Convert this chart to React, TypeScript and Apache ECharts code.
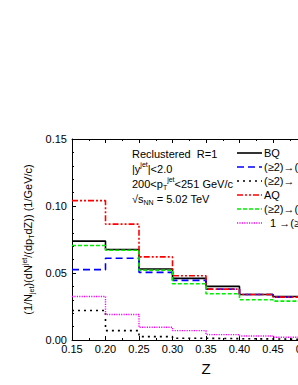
import React, { useEffect, useRef } from "react";
import * as echarts from "echarts";

const edges = [0.15, 0.2, 0.25, 0.3, 0.35, 0.4, 0.45, 0.5];
const bq = [0.0738, 0.0675, 0.053, 0.046, 0.04, 0.034, 0.0325];
const n22bq = [0.0525, 0.061, 0.0505, 0.0445, 0.038, 0.034, 0.032];
const n21 = [0.022, 0.007, 0.0025, 0.0013, 0.001, 0.0008, 0.0005];
const aq = [0.104, 0.0865, 0.062, 0.048, 0.038, 0.034, 0.032];
const n22aq = [0.0705, 0.067, 0.052, 0.042, 0.0345, 0.03, 0.029];
const n12 = [0.0325, 0.019, 0.0095, 0.007, 0.004, 0.003, 0.002];
const yTicks = [0, 0.05, 0.1, 0.15];
const legendNames = ["BQ", "(≥2)→(≥2)", "(≥2)→ 1", "AQ", "(≥2)→(≥2)", "  1 →(≥2)"];

const FONT = "Liberation Sans";

function stepData(vals: number[]) {
  const d = vals.map((v, i) => [edges[i], v]);
  d.push([edges[edges.length - 1], vals[vals.length - 1]]);
  return d;
}

export default function App() {
  const ref = useRef<HTMLDivElement>(null);
  useEffect(() => {
    if (!ref.current) return;
    const chart = echarts.init(ref.current, undefined, { renderer: "svg" });
    const styles: [string, any, number][] = [
      ["#000000", "solid", 1.6],
      ["#0000ff", [7, 4], 1.6],
      ["#000000", [2, 4], 1.6],
      ["#ff0000", [6, 2, 2, 2, 2, 2], 1.6],
      ["#00ee00", [4, 2], 1.6],
      ["#ff00ff", [1.2, 1.2], 1.4],
    ];
    const seriesVals = [bq, n22bq, n21, aq, n22aq, n12];
    const series = seriesVals.map((vals, i) => ({
      name: legendNames[i] + "#" + i,
      type: "line",
      step: "end",
      symbol: "none",
      data: stepData(vals),
      lineStyle: { color: styles[i][0], type: styles[i][1], width: styles[i][2] },
      itemStyle: { color: styles[i][0] },
      z: 3,
    }));
    const legendGraphics: any[] = [];
    legendNames.forEach((nm, i) => {
      const y = 153 + i * 14;
      const [color, type, width] = styles[i];
      legendGraphics.push({
        type: "line",
        shape: { x1: 237, y1: y, x2: 262, y2: y },
        style: { stroke: color, lineWidth: width, lineDash: type === "solid" ? null : type },
        z: 10,
      });
      legendGraphics.push({
        type: "text",
        x: 264,
        y,
        style: {
          text: nm,
          fontFamily: FONT,
          fontSize: 11,
          fill: "#000",
          verticalAlign: "middle",
          align: "left",
        },
        z: 10,
      });
    });
    const axisCommon = {
      axisLine: { show: true, onZero: false, lineStyle: { color: "#000", width: 1 } },
      splitLine: { show: false },
    };
    chart.setOption({
      animation: false,
      textStyle: { fontFamily: FONT },
      grid: { left: 72, right: 20, top: 139, bottom: 45 },
      xAxis: [
        {
          type: "value",
          min: 0.15,
          max: 0.55,
          interval: 0.05,
          name: "Z",
          nameLocation: "middle",
          nameGap: 21,
          nameTextStyle: { fontFamily: FONT, fontSize: 15, color: "#000" },
          ...axisCommon,
          axisTick: { inside: true, length: 4, lineStyle: { color: "#000" } },
          minorTick: { show: true, splitNumber: 2, length: 2, lineStyle: { color: "#000" } },
          axisLabel: {
            margin: 3,
            fontSize: 11,
            color: "#000",
            fontFamily: FONT,
            formatter: (v: number) => v.toFixed(2),
          },
        },
        {
          type: "value",
          position: "top",
          min: 0.15,
          max: 0.55,
          interval: 0.05,
          ...axisCommon,
          axisTick: { inside: true, length: 4, lineStyle: { color: "#000" } },
          minorTick: { show: true, splitNumber: 2, length: 2, lineStyle: { color: "#000" } },
          axisLabel: { show: false },
        },
      ],
      yAxis: [
        {
          type: "value",
          min: 0,
          max: 0.15,
          interval: 0.05,
          name: "(1/N{sub|jet})(dN{sup|jet}/(dp{sub|T}dZ)) (1/GeV/c)",
          nameLocation: "middle",
          nameGap: 27,
          nameTextStyle: {
            fontFamily: FONT,
            fontSize: 11,
            color: "#000",
            rich: {
              sub: { fontSize: 7, fontFamily: FONT, color: "#000", verticalAlign: "bottom", lineHeight: 14 },
              sup: { fontSize: 7, fontFamily: FONT, color: "#000", verticalAlign: "top", lineHeight: 14 },
            },
          },
          ...axisCommon,
          axisTick: { inside: true, length: 4, lineStyle: { color: "#000" } },
          minorTick: { show: true, splitNumber: 5, length: 2, lineStyle: { color: "#000" } },
          axisLabel: {
            margin: 5,
            fontSize: 11,
            color: "#000",
            fontFamily: FONT,
            formatter: (v: number) => (yTicks.some((t) => Math.abs(t - v) < 1e-9) ? v.toFixed(2) : ""),
          },
        },
        {
          type: "value",
          position: "right",
          min: 0,
          max: 0.15,
          interval: 0.05,
          ...axisCommon,
          axisTick: { inside: true, length: 4, lineStyle: { color: "#000" } },
          axisLabel: { show: false },
        },
      ],
      graphic: [
        {
          type: "text",
          left: 132,
          top: 146,
          style: {
            text:
              "Reclustered  R=1\n|y{sup|jet}|<2.0\n200<p{sub|T}{sup|jet}<251 GeV/c\n√{norm|s}{sub|NN} = 5.02 TeV",
            fontFamily: FONT,
            fontSize: 11,
            lineHeight: 15,
            fill: "#000",
            rich: {
              sup: { fontSize: 7, fontFamily: FONT, fill: "#000", verticalAlign: "top", lineHeight: 15 },
              sub: { fontSize: 7, fontFamily: FONT, fill: "#000", verticalAlign: "bottom", lineHeight: 15 },
              norm: { fontSize: 11, fontFamily: FONT, fill: "#000", lineHeight: 15 },
            },
          },
        },
        ...legendGraphics,
      ],
      series,
    });
    return () => chart.dispose();
  }, []);
  return (
    <div style={{ position: "absolute", left: 0, top: 0, width: 298, height: 385, overflow: "hidden" }}>
      <div ref={ref} style={{ width: 360, height: 385 }} />
    </div>
  );
}
